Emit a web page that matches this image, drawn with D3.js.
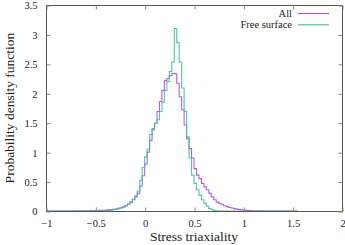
<!DOCTYPE html>
<html><head><meta charset="utf-8">
<script src="https://cdn.jsdelivr.net/npm/d3@7"></script>
<style>body{margin:0;background:#fff}svg{display:block}svg text{font-family:"Liberation Serif","DejaVu Serif",serif !important}</style>
</head><body>
<svg id="c" width="345" height="245"></svg>
<script>
const binStart = -1.0;
const binWidth = 0.025;
const xTicks = [-1, -0.5, 0, 0.5, 1, 1.5, 2];
const xTickLabels = ["\u22121", "\u22120.5", "0", "0.5", "1", "1.5", "2"];
const yTicks = [0, 0.5, 1, 1.5, 2, 2.5, 3, 3.5];
const yTickLabels = ["0", "0.5", "1", "1.5", "2", "2.5", "3", "3.5"];
const seriesNames = ["All", "Free surface"];
const allDensity = [
  0,0,0,0,0,0,0,0,0,0.001,0.001,0.001,0.002,0.002,0.003,0.003,
  0.004,0.005,0.006,0.007,0.008,0.010,0.012,0.014,0.016,0.019,0.023,0.028,0.035,0.045,0.055,0.07,0.09,0.12,0.15,0.19,0.24,0.30,0.42,0.60,
  0.80,1.00,1.20,1.38,1.49,1.69,1.86,2.05,2.22,2.25,2.30,2.34,2.33,2.17,1.94,1.72,1.46,1.23,1.06,0.90,
  0.72,0.61,0.55,0.47,0.41,0.36,0.30,0.24,0.19,0.15,0.13,0.11,0.09,0.075,0.06,0.05,0.04,0.032,0.026,0.02,
  0.015,0.011,0.008,0.006,0.004,0.003,0.002,0.0015,0.001,0.001,0.0005,
  0,0,0,0,0,0,0,0,0,0,0
];
const freeDensity = [
  0,0,0,0,0,0,0,0,0,0,0,0,0,0,0,0,
  0.001,0.001,0.002,0.002,0.003,0.004,0.005,0.007,0.009,0.012,0.015,0.02,0.03,0.04,0.05,0.07,0.09,0.12,0.15,0.20,0.26,0.34,0.52,0.74,
  0.92,1.05,1.30,1.40,1.49,1.55,1.69,1.85,2.05,2.20,2.37,2.53,3.10,2.86,2.53,2.09,1.69,1.26,0.90,0.61,
  0.47,0.36,0.27,0.19,0.13,0.08,0.04,0.02,0.008,0.003,0.001,
  0,0,0,0,0,0,0,0,0,0,0,0,0,0,0,0,0,0,0,0,0,0,0,0,0,0,0,0,0,0,0
];
const colors = ["#ab4fe6", "#3fc09a"];

const svg = d3.select("#c");
const L = 46, R = 342, T = 5, B = 211;
const x = d3.scaleLinear().domain([-1, 2]).range([L, R]);
const y = d3.scaleLinear().domain([0, 3.5]).range([B, T]);
const font = "Liberation Serif, DejaVu Serif, serif";
const axisCol = "#555";

function pts(vals) {
  const p = vals.map((v, i) => [binStart + i * binWidth, v]);
  p.push([binStart + vals.length * binWidth, vals[vals.length - 1]]);
  return p;
}
const line = d3.line().x(d => x(d[0])).y(d => y(d[1])).curve(d3.curveStepAfter);
[allDensity, freeDensity].forEach((vals, k) => {
  svg.append("path").attr("d", line(pts(vals)))
    .attr("fill", "none").attr("stroke", colors[k]).attr("stroke-width", 1.1)
    .attr("stroke-opacity", 0.9);
});

svg.append("rect").attr("x", L + 0.5).attr("y", T + 0.5).attr("width", R - L).attr("height", B - T)
  .attr("fill", "none").attr("stroke", axisCol).attr("stroke-width", 1);

const xb = svg.append("g").attr("transform", `translate(0.5,${B + 0.5})`)
  .call(d3.axisBottom(x).tickValues(xTicks).tickSizeInner(-4).tickSizeOuter(0).tickFormat((d, i) => xTickLabels[i]).tickPadding(8));
const xt = svg.append("g").attr("transform", `translate(0.5,${T + 0.5})`)
  .call(d3.axisTop(x).tickValues(xTicks).tickSizeInner(-4).tickSizeOuter(0).tickFormat(""));
const yl = svg.append("g").attr("transform", `translate(${L + 0.5},0.5)`)
  .call(d3.axisLeft(y).tickValues(yTicks).tickSizeInner(-4).tickSizeOuter(0).tickFormat((d, i) => yTickLabels[i]).tickPadding(9));
const yr = svg.append("g").attr("transform", `translate(${R + 0.5},0.5)`)
  .call(d3.axisRight(y).tickValues(yTicks).tickSizeInner(-4).tickSizeOuter(0).tickFormat(""));
[xb, xt, yl, yr].forEach(g => {
  g.attr("font-family", font);
  g.select(".domain").remove();
  g.selectAll("line").attr("stroke", "#888");
  g.selectAll("text").attr("font-size", 10.5).attr("fill", "#222");
});

svg.append("text").attr("x", 194).attr("y", 241).attr("text-anchor", "middle")
  .attr("font-size", 13.5).attr("fill", "#222").text("Stress triaxiality");
svg.append("text").attr("transform", "translate(14,108) rotate(-90)").attr("text-anchor", "middle")
  .attr("font-size", 13.5).attr("fill", "#222").text("Probability density function");

seriesNames.forEach((n, k) => {
  const yy = 13.5 + k * 11.3;
  svg.append("text").attr("x", 292).attr("y", yy + 3.5).attr("text-anchor", "end")
    .attr("font-size", 10.5).attr("fill", "#222").text(n);
  svg.append("line").attr("x1", 298).attr("x2", 329).attr("y1", yy).attr("y2", yy)
    .attr("stroke", colors[k]).attr("stroke-width", 1.1);
});
</script>
</body></html>
